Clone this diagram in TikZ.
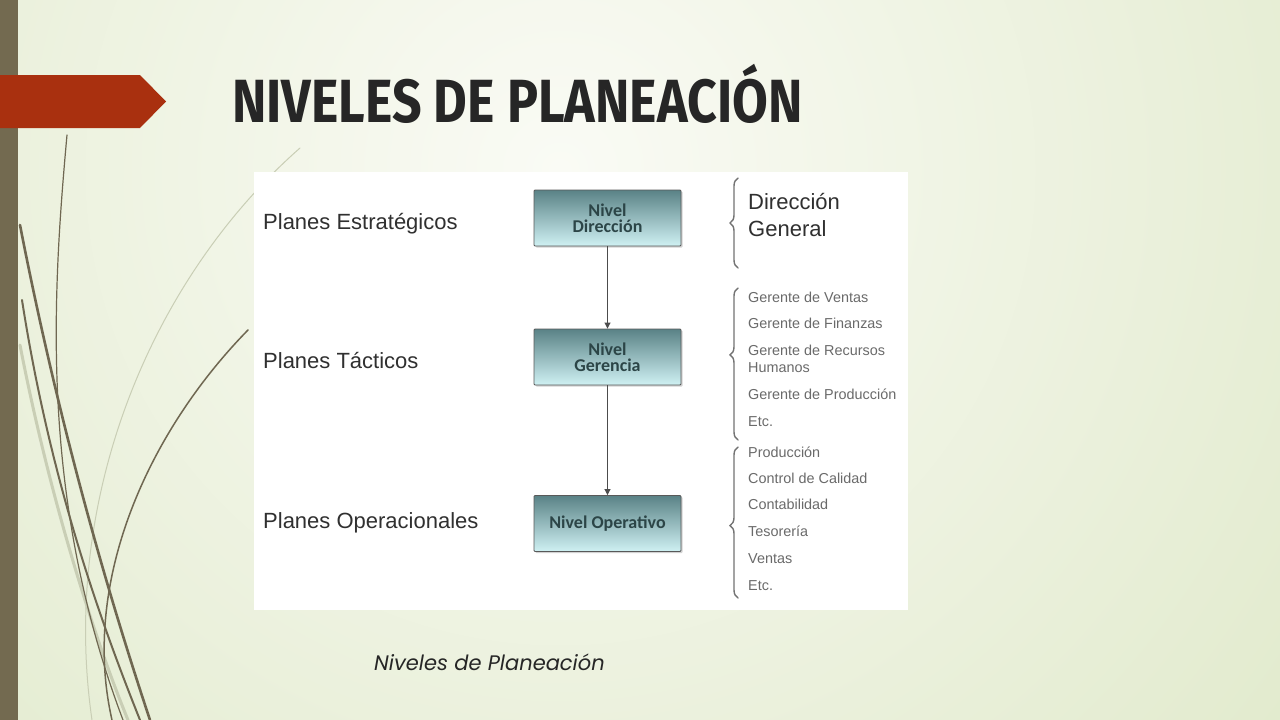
\documentclass[tikz,border=0pt]{standalone}
\usepackage{fontspec}
\setmainfont{Liberation Sans}
\newfontfamily\titlefont{Fira Sans}
\newfontfamily\boxfont{Carlito}
\newfontfamily\capfont{Poppins}
\usetikzlibrary{arrows.meta,decorations.pathreplacing,shadows}
\definecolor{bgedge}{HTML}{E1EACC}
\definecolor{bgcenter}{HTML}{FAFBF5}
\definecolor{barcol}{HTML}{736A50}
\definecolor{redcol}{HTML}{A9300F}
\definecolor{grassdark}{HTML}{6F6751}
\definecolor{grasslight}{HTML}{C9CEB5}
\definecolor{boxtop}{HTML}{5A8286}
\definecolor{boxbot}{HTML}{CFF1F3}
\definecolor{boxtext}{HTML}{2C4547}
\definecolor{labtext}{HTML}{303030}
\definecolor{listtext}{HTML}{6A6A6A}
\tikzset{
  levelbox/.style={draw=black!65, line width=0.9pt, rounded corners=1pt,
    top color=boxtop, bottom color=boxbot, minimum width=147pt, minimum height=56pt,
    inner sep=0pt, align=center, font=\boxfont\bfseries\fontsize{18}{16}\selectfont, text=boxtext,
    drop shadow={shadow xshift=1.5pt, shadow yshift=-1.5pt, fill=black!35}},
  biglab/.style={anchor=base west, inner sep=0pt, font=\fontsize{22}{27}\selectfont, text=labtext},
  listlab/.style={anchor=base west, inner sep=0pt, font=\fontsize{14.4}{17}\selectfont, text=listtext},
  arr/.style={draw=black!70, line width=0.9pt, -{Triangle[length=6pt,width=6pt]}},
  bracestyle/.style={draw=black!55, line width=1.4pt, line cap=round, decorate, decoration={brace, amplitude=8pt}},
  grass/.style={line cap=round}
}
\begin{document}
\begin{tikzpicture}[x=1pt,y=-1pt]
\useasboundingbox (0,0) rectangle (1280,720);
% background
\begin{scope}
\clip (0,0) rectangle (1280,720);
\fill[bgedge] (0,0) rectangle (1280,720);
\shade[inner color=bgcenter, outer color=bgedge] (560,170) circle (950);
\end{scope}
\fill[barcol] (0,0) rectangle (18,720);
% grass curves
\draw[grass, grasslight, line width=1pt] (300,148) .. controls (150,280) and (60,500) .. (92,720);
\draw[grass, grasslight, line width=3pt] (20,345) .. controls (50,500) and (95,640) .. (128,720);
\draw[grass, grassdark, line width=1.2pt] (67,135) .. controls (52,300) and (40,500) .. (123,720);
\draw[grass, grassdark, line width=2.6pt] (20,225) .. controls (60,430) and (110,600) .. (150,720);
\draw[grass, grassdark, line width=2pt] (22,300) .. controls (50,480) and (100,620) .. (140,720);
\draw[grass, grassdark, line width=1.5pt] (248,330) .. controls (150,430) and (80,580) .. (112,720);
% red arrow
\fill[redcol] (0,75) -- (140,75) -- (166,101.5) -- (140,128) -- (0,128) -- cycle;
% title
\node[anchor=base west, inner sep=0pt, text=black!85] (title) at (232,122)
  {\scalebox{0.85}[1]{\titlefont\bfseries\fontsize{61}{61}\selectfont NIVELES DE PLANEACIÓN}};
% white panel
\fill[white] (254,172) rectangle (908,610);
% level boxes
\node[levelbox] (dir) at (607.5,218) {Nivel\\Dirección};
\node[levelbox] (ger) at (607.5,357) {Nivel\\Gerencia};
\node[levelbox] (ope) at (607.5,523.5) {Nivel Operativo};
\draw[arr] (dir) -- (ger);
\draw[arr] (ger) -- (ope);
% left labels
\node[biglab] (pe) at (263,229) {Planes Estratégicos};
\node[biglab] (pt) at (263,368) {Planes Tácticos};
\node[biglab] (po) at (263,528) {Planes Operacionales};
% braces
\coordinate (b1a) at (738,268); \coordinate (b1b) at (738,178);
\coordinate (b2a) at (738,440); \coordinate (b2b) at (738,288);
\coordinate (b3a) at (738,598); \coordinate (b3b) at (738,447);
\draw[bracestyle] (b1a) -- (b1b);
\draw[bracestyle, decoration={brace, amplitude=8pt, aspect=0.56}] (b2a) -- (b2b);
\draw[bracestyle, decoration={brace, amplitude=8pt, aspect=0.48}] (b3a) -- (b3b);
% right labels
\node[biglab] (dg1) at (748,209) {Dirección};
\node[biglab] (dg2) at (748,236) {General};
\node[listlab] (g1) at (748,302) {Gerente de Ventas};
\node[listlab] (g2) at (748,328) {Gerente de Finanzas};
\node[listlab] (g3) at (748,355) {Gerente de Recursos};
\node[listlab] (g3b) at (748,372) {Humanos};
\node[listlab] (g4) at (748,399) {Gerente de Producción};
\node[listlab] (g5) at (748,426) {Etc.};
\node[listlab] (o1) at (748,457) {Producción};
\node[listlab] (o2) at (748,483) {Control de Calidad};
\node[listlab] (o3) at (748,509) {Contabilidad};
\node[listlab] (o4) at (748,536) {Tesorería};
\node[listlab] (o5) at (748,563) {Ventas};
\node[listlab] (o6) at (748,590) {Etc.};
% caption
\node[anchor=base west, inner sep=0pt, text=black!85, font=\capfont\itshape\fontsize{21}{21}\selectfont] (cap) at (374,670) {Niveles de Planeación};
\end{tikzpicture}
\end{document}
